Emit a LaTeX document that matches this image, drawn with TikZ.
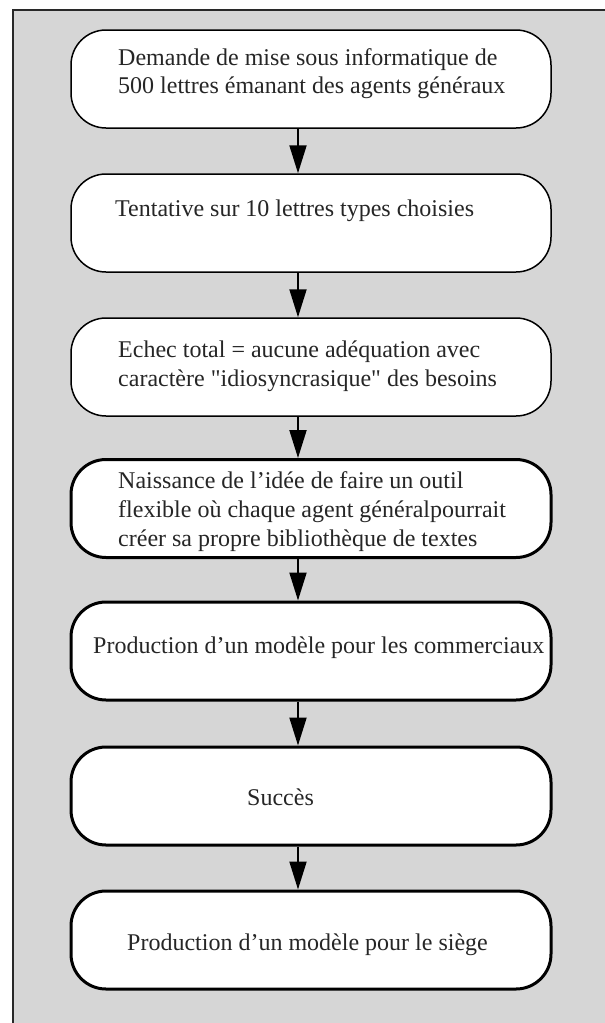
\documentclass[tikz,border=0pt]{standalone}
\usepackage{fontspec}
\setmainfont{Liberation Serif}
\newfontfamily\rawserif{Liberation Serif}
\usetikzlibrary{arrows.meta}
\definecolor{panelgray}{RGB}{214,214,214}
\definecolor{framegray}{RGB}{40,40,40}
\newcommand{\sq}{{\rawserif "}}
\begin{document}
\begin{tikzpicture}[x=1pt,y=-1pt,
  stepbox/.style={draw=black, fill=white, rounded corners=35pt, minimum width=480pt, minimum height=98pt, inner sep=0pt, line width=1.5pt},
  thickbox/.style={stepbox, line width=3pt},
  txt/.style={anchor=base west, inner sep=0pt, font=\fontsize{24}{29}\selectfont, text=black!85},
  flow/.style={line width=2pt, -{Triangle[length=28pt,width=17pt]}}]
\useasboundingbox (0,0) rectangle (605,1023);
\clip (0,0) rectangle (605,1023);
\draw[fill=panelgray, draw=framegray, line width=2pt] (12.5,9.5) rectangle (650,1080);
% boxes
\node[stepbox] (b1) at (311,79) {};
\node[stepbox] (b2) at (311,223) {};
\node[stepbox] (b3) at (311,367) {};
\node[thickbox] (b4) at (311,508.5) {};
\node[thickbox] (b5) at (311,651) {};
\node[thickbox] (b6) at (311,796) {};
\node[thickbox] (b7) at (311,940) {};
% texts
\node[txt] (t1a) at (118,65) {Demande de mise sous informatique de};
\node[txt] (t1b) at (118,93) {500 lettres émanant des agents généraux};
\node[txt] (t2) at (115,216) {Tentative sur 10 lettres types choisies};
\node[txt] (t3a) at (118,357) {Echec total = aucune adéquation avec};
\node[txt] (t3b) at (118,386) {caractère \sq idiosyncrasique\sq{} des besoins};
\node[txt] (t4a) at (118,488) {Naissance de l'idée de faire un outil};
\node[txt] (t4b) at (118,517) {flexible où chaque agent généralpourrait};
\node[txt] (t4c) at (118,546) {créer sa propre bibliothèque de textes};
\node[txt] (t5) at (93,653) {Production d'un modèle pour les commerciaux};
\node[txt] (t6) at (247,805) {Succès};
\node[txt] (t7) at (127,950) {Production d'un modèle pour le siège};
% connectors
\coordinate (ax) at (298,0);
\draw[flow] (b1.south -| ax) -- (b2.north -| ax);
\draw[flow] (b2.south -| ax) -- (b3.north -| ax);
\draw[flow] (b3.south -| ax) -- (b4.north -| ax);
\draw[flow] (b4.south -| ax) -- (b5.north -| ax);
\draw[flow] (b5.south -| ax) -- (b6.north -| ax);
\draw[flow] (b6.south -| ax) -- (b7.north -| ax);
\end{tikzpicture}
\end{document}
